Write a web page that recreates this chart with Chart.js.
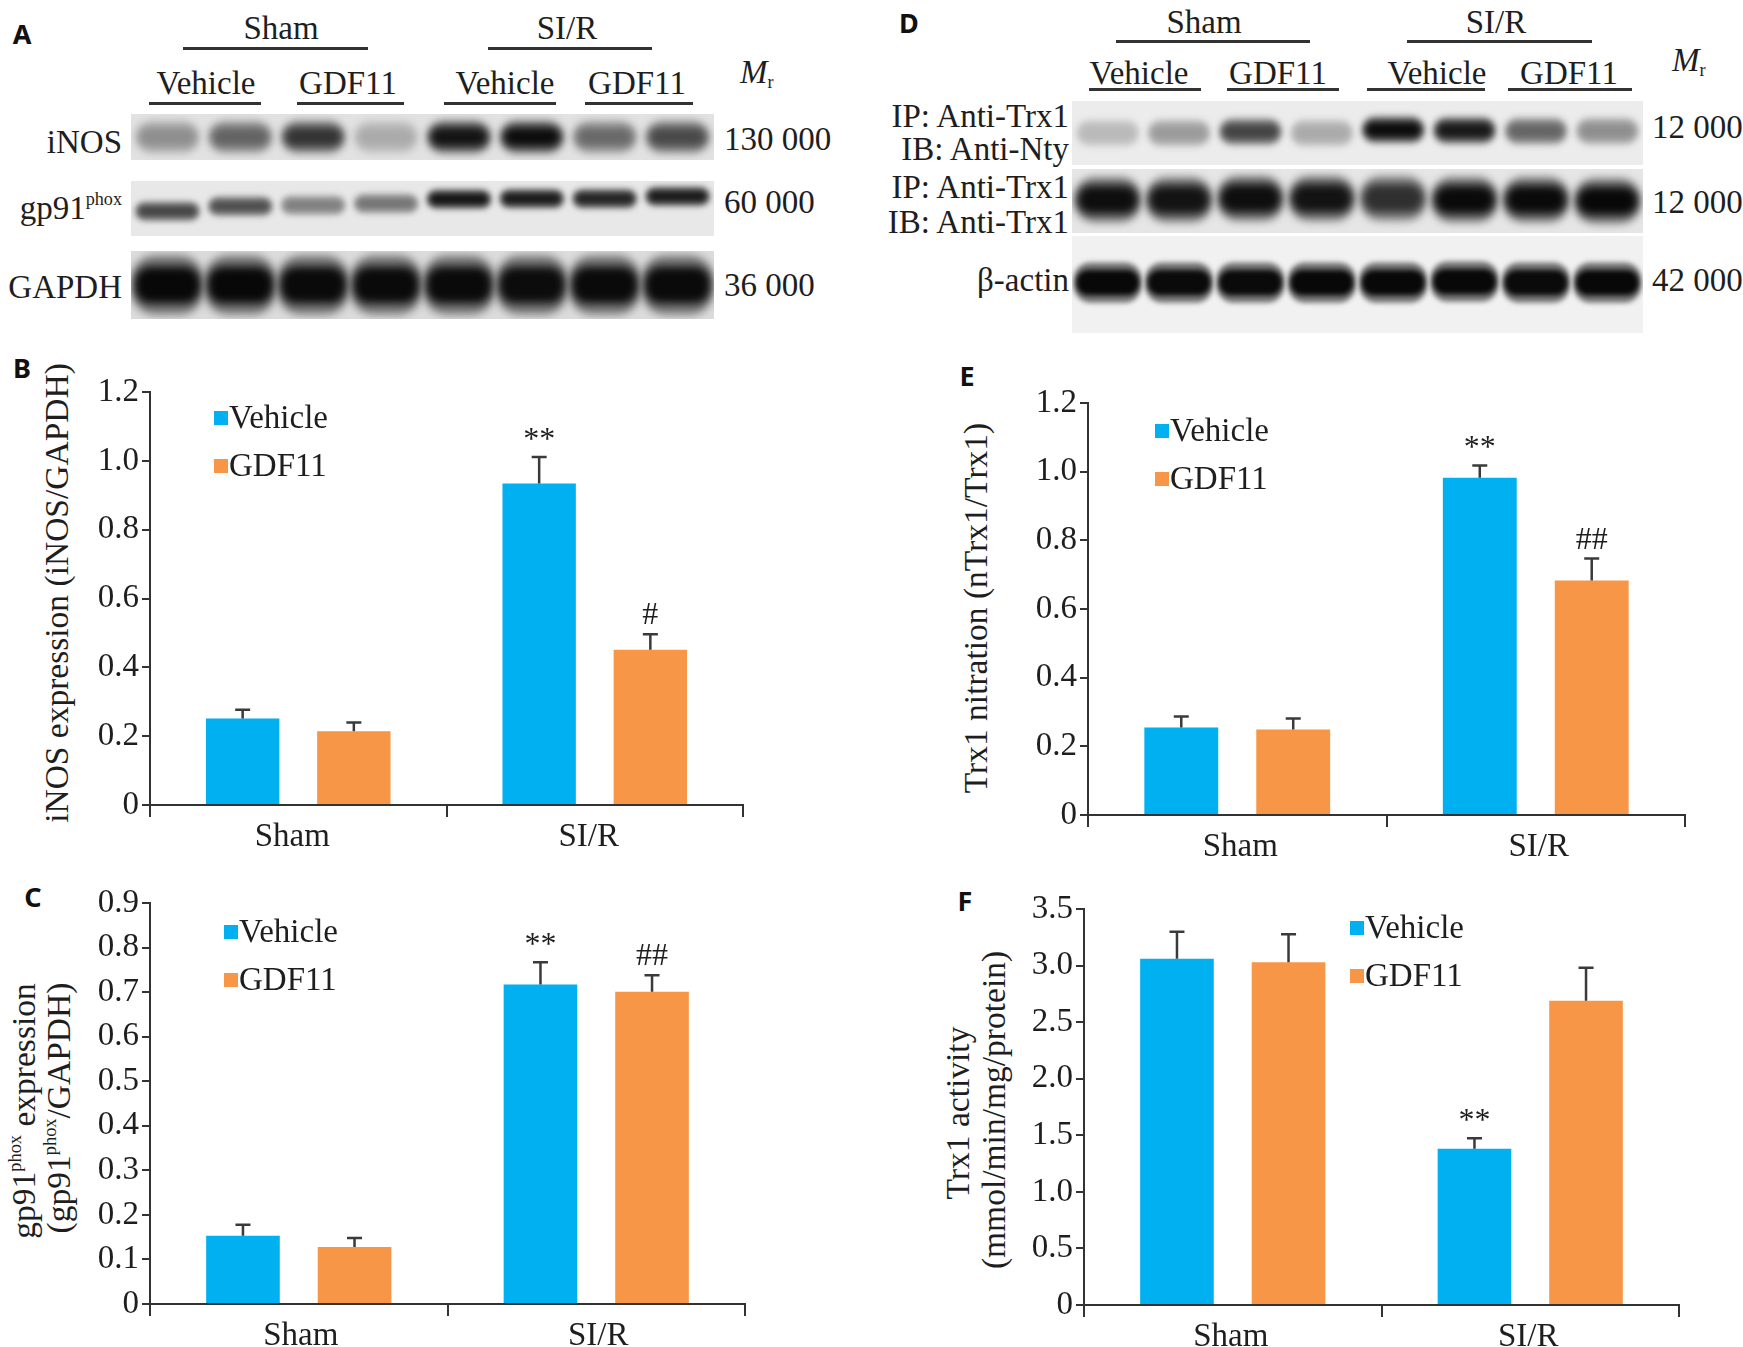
<!DOCTYPE html>
<html><head><meta charset="utf-8">
<script src="https://cdn.jsdelivr.net/npm/chart.js@4.4.0/dist/chart.umd.min.js"></script>
<style>
html,body{margin:0;padding:0;background:#fff;}
#page{position:relative;width:1743px;height:1347px;overflow:hidden;font-family:"Liberation Serif","Times New Roman",serif;color:#1e1e1e;}
.t{position:absolute;font-size:33px;line-height:1;white-space:nowrap;transform:translate(-50%,-50%);}
.r{position:absolute;font-size:33px;line-height:1;white-space:nowrap;transform:translate(-100%,-50%);}
.l{position:absolute;font-size:33px;line-height:1;white-space:nowrap;transform:translate(0,-50%);}
.ln{position:absolute;height:3px;background:#333;}
.pl{position:absolute;font-family:"Noto Sans",sans-serif;font-weight:700;font-size:27px;line-height:1;transform:translate(-50%,-50%);color:#111;}
.yt{position:absolute;font-size:33.5px;line-height:1;white-space:nowrap;transform:translate(-50%,-50%) rotate(-90deg);}
sup{font-size:0.55em;vertical-align:0.75em;line-height:0;}
sub{font-size:0.55em;vertical-align:-0.3em;line-height:0;}
canvas{position:absolute;}
</style></head>
<body><div id="page">

<!-- Panel A header -->
<div class="pl" style="left:22px;top:33px">A</div>
<div class="t" style="left:281px;top:28px">Sham</div>
<div class="ln" style="left:183px;top:47px;width:185px"></div>
<div class="t" style="left:567px;top:28px">SI/R</div>
<div class="ln" style="left:488px;top:47px;width:164px"></div>
<div class="t" style="left:206px;top:83px">Vehicle</div>
<div class="ln" style="left:149px;top:102px;width:112px"></div>
<div class="t" style="left:348px;top:83px">GDF11</div>
<div class="ln" style="left:297px;top:102px;width:107px"></div>
<div class="t" style="left:505px;top:83px">Vehicle</div>
<div class="ln" style="left:444px;top:102px;width:112px"></div>
<div class="t" style="left:637px;top:83px">GDF11</div>
<div class="ln" style="left:585px;top:102px;width:108px"></div>
<div class="l" style="left:740px;top:72px"><i>M</i><sub>r</sub></div>
<div class="r" style="left:122px;top:142px">iNOS</div>
<div class="r" style="left:122px;top:208px">gp91<sup>phox</sup></div>
<div class="r" style="left:122px;top:287px">GAPDH</div>
<div class="l" style="left:724px;top:139px">130 000</div>
<div class="l" style="left:724px;top:202px">60 000</div>
<div class="l" style="left:724px;top:285px">36 000</div>
<canvas id="blotA1"></canvas><canvas id="blotA2"></canvas><canvas id="blotA3"></canvas>

<!-- Panel D header -->
<div class="pl" style="left:909px;top:22px">D</div>
<div class="t" style="left:1204px;top:22px">Sham</div>
<div class="ln" style="left:1116px;top:40px;width:194px"></div>
<div class="t" style="left:1496px;top:22px">SI/R</div>
<div class="ln" style="left:1407px;top:40px;width:185px"></div>
<div class="t" style="left:1139px;top:73px">Vehicle</div>
<div class="ln" style="left:1089px;top:88px;width:112px"></div>
<div class="t" style="left:1278px;top:73px">GDF11</div>
<div class="ln" style="left:1227px;top:88px;width:112px"></div>
<div class="t" style="left:1437px;top:73px">Vehicle</div>
<div class="ln" style="left:1367px;top:88px;width:118px"></div>
<div class="t" style="left:1569px;top:73px">GDF11</div>
<div class="ln" style="left:1508px;top:88px;width:124px"></div>
<div class="l" style="left:1672px;top:60px"><i>M</i><sub>r</sub></div>
<div class="r" style="left:1069px;top:116px">IP: Anti-Trx1</div>
<div class="r" style="left:1069px;top:149px">IB: Anti-Nty</div>
<div class="r" style="left:1069px;top:187px">IP: Anti-Trx1</div>
<div class="r" style="left:1069px;top:222px">IB: Anti-Trx1</div>
<div class="r" style="left:1069px;top:280px">β-actin</div>
<div class="l" style="left:1652px;top:127px">12 000</div>
<div class="l" style="left:1652px;top:202px">12 000</div>
<div class="l" style="left:1652px;top:280px">42 000</div>
<canvas id="blotD1"></canvas><canvas id="blotD2"></canvas><canvas id="blotD3"></canvas>

<!-- Chart panels -->
<div class="pl" style="left:22px;top:367px">B</div>
<div class="yt" style="left:57px;top:593px">iNOS expression (iNOS/GAPDH)</div>
<canvas id="chartB"></canvas>

<div class="pl" style="left:33px;top:896px">C</div>
<div class="yt" style="left:24px;top:1111px">gp91<sup>phox</sup> expression</div>
<div class="yt" style="left:59px;top:1108px">(gp91<sup>phox</sup>/GAPDH)</div>
<canvas id="chartC"></canvas>

<div class="pl" style="left:967px;top:375px">E</div>
<div class="yt" style="left:976px;top:608px">Trx1 nitration (nTrx1/Trx1)</div>
<canvas id="chartE"></canvas>

<div class="pl" style="left:965px;top:900px">F</div>
<div class="yt" style="left:958px;top:1113px">Trx1 activity</div>
<div class="yt" style="left:994px;top:1110px">(mmol/min/mg/protein)</div>
<canvas id="chartF"></canvas>

</div>
<script>
// ---------------- DATA ----------------
const categories = ['Sham', 'SI/R'];
const seriesNames = ['Vehicle', 'GDF11'];

// B: iNOS expression (iNOS/GAPDH)
const iNOSVehicle    = [0.251, 0.934];
const iNOSVehicleErr = [0.026, 0.077];
const iNOSGDF11      = [0.214, 0.451];
const iNOSGDF11Err   = [0.026, 0.045];
const iNOSSigVehicle = ['', '**'];
const iNOSSigGDF11   = ['', '#'];
const iNOSTicks      = [0, 0.2, 0.4, 0.6, 0.8, 1.0, 1.2];

// C: gp91phox expression
const gp91Vehicle    = [0.153, 0.717];
const gp91VehicleErr = [0.025, 0.050];
const gp91GDF11      = [0.128, 0.701];
const gp91GDF11Err   = [0.020, 0.037];
const gp91SigVehicle = ['', '**'];
const gp91SigGDF11   = ['', '##'];
const gp91Ticks      = [0, 0.1, 0.2, 0.3, 0.4, 0.5, 0.6, 0.7, 0.8, 0.9];

// E: Trx1 nitration (nTrx1/Trx1)
const nitVehicle    = [0.255, 0.982];
const nitVehicleErr = [0.032, 0.036];
const nitGDF11      = [0.249, 0.683];
const nitGDF11Err   = [0.032, 0.064];
const nitSigVehicle = ['', '**'];
const nitSigGDF11   = ['', '##'];
const nitTicks      = [0, 0.2, 0.4, 0.6, 0.8, 1.0, 1.2];

// F: Trx1 activity (mmol/min/mg/protein)
const actVehicle    = [3.06, 1.38];
const actVehicleErr = [0.24, 0.094];
const actGDF11      = [3.03, 2.69];
const actGDF11Err   = [0.247, 0.29];
const actSigVehicle = ['', '**'];
const actSigGDF11   = ['', ''];
const actTicks      = [0, 0.5, 1.0, 1.5, 2.0, 2.5, 3.0, 3.5];

// Western blot lanes and band intensities (0 = no band, 1 = black)
const lanes = ['Sham Vehicle 1', 'Sham Vehicle 2', 'Sham GDF11 1', 'Sham GDF11 2',
               'SI/R Vehicle 1', 'SI/R Vehicle 2', 'SI/R GDF11 1', 'SI/R GDF11 2'];
const iNOSBand   = [0.38, 0.58, 0.80, 0.25, 0.95, 0.98, 0.55, 0.70];
const gp91Band   = [0.72, 0.68, 0.45, 0.50, 0.95, 0.92, 0.88, 0.92];
const gapdhBand  = [1.00, 1.00, 0.99, 0.99, 0.99, 0.98, 0.99, 0.99];
const ntyBand    = [0.18, 0.32, 0.72, 0.25, 0.98, 0.92, 0.57, 0.38];
const trx1Band   = [0.97, 0.95, 0.97, 0.95, 0.82, 0.99, 0.99, 1.00];
const actinBand  = [1.00, 0.99, 0.99, 1.00, 1.00, 1.00, 0.99, 1.00];

// ---------------- STYLE ----------------
const SERIF = '"Liberation Serif", "Times New Roman", serif';
const AX = '#333333';
const TXT = '#1e1e1e';
const BLUE = '#00B0F0';
const ORANGE = '#F79646';
const FS = 33;

function place(c, b) {
  c.style.left = b.x + 'px'; c.style.top = b.y + 'px';
  c.style.width = b.w + 'px'; c.style.height = b.h + 'px';
  c.width = b.w; c.height = b.h;
}

const gray = v => { const g = Math.round(224 - v * 216); return `rgb(${g},${g},${g})`; };

const blurPlugin = {
  id: 'blur',
  beforeDatasetsDraw(chart, args, opts) { chart.ctx.save(); chart.ctx.filter = `blur(${opts.px || 3}px)`; },
  afterDatasetsDraw(chart) { chart.ctx.restore(); }
};

function blot(id, box, band, spec) {
  const c = document.getElementById(id);
  place(c, box);
  c.style.background = spec.bg;
  new Chart(c, {
    type: 'bar',
    data: {
      labels: lanes,
      datasets: [
        // core of each band (dataset 0 is painted last, on top)
        { data: band.map((v, i) => [spec.center[i] - spec.half, spec.center[i] + spec.half]),
          backgroundColor: band.map(gray), borderWidth: 0, borderSkipped: false,
          borderRadius: spec.radius, barPercentage: spec.width, categoryPercentage: 1, grouped: false },
        // diffuse halo
        { data: band.map((v, i) => [spec.center[i] - spec.half * 1.6, spec.center[i] + spec.half * 1.6]),
          backgroundColor: band.map(v => gray(v * 0.5)), borderWidth: 0, borderSkipped: false,
          borderRadius: spec.radius * 1.4, barPercentage: Math.min(1, spec.width * 1.08), categoryPercentage: 1, grouped: false }
      ]
    },
    options: {
      responsive: false, animation: false, events: [],
      layout: { padding: 0 },
      plugins: { legend: { display: false }, tooltip: { enabled: false }, blur: { px: spec.blur } },
      scales: { x: { display: false }, y: { display: false, min: 0, max: 1, reverse: true } }
    },
    plugins: [blurPlugin]
  });
}

// Panel A strips
blot('blotA1', { x: 131, y: 114, w: 583, h: 46 }, iNOSBand,
  { bg: '#e2e2e2', center: [0.5, 0.5, 0.5, 0.5, 0.5, 0.5, 0.5, 0.5], half: 0.22, width: 0.8, radius: 12, blur: 4 });
blot('blotA2', { x: 131, y: 181, w: 583, h: 55 }, gp91Band,
  { bg: '#e8e8e8', center: [0.55, 0.46, 0.44, 0.41, 0.33, 0.32, 0.32, 0.28], half: 0.11, width: 0.82, radius: 8, blur: 3 });
blot('blotA3', { x: 131, y: 251, w: 583, h: 68 }, gapdhBand,
  { bg: '#dcdcdc', center: [0.5, 0.5, 0.5, 0.5, 0.5, 0.5, 0.5, 0.5], half: 0.27, width: 0.9, radius: 16, blur: 4 });
// Panel D strips
blot('blotD1', { x: 1072, y: 101, w: 571, h: 64 }, ntyBand,
  { bg: '#ececec', center: [0.5, 0.5, 0.48, 0.5, 0.45, 0.46, 0.47, 0.47], half: 0.13, width: 0.8, radius: 9, blur: 3.5 });
blot('blotD2', { x: 1072, y: 169, w: 571, h: 64 }, trx1Band,
  { bg: '#e6e6e6', center: [0.48, 0.48, 0.46, 0.46, 0.46, 0.48, 0.48, 0.5], half: 0.22, width: 0.85, radius: 14, blur: 4 });
blot('blotD3', { x: 1072, y: 236, w: 571, h: 97 }, actinBand,
  { bg: '#f1f1f1', center: [0.48, 0.48, 0.48, 0.48, 0.48, 0.47, 0.48, 0.48], half: 0.13, width: 0.88, radius: 12, blur: 2.5 });

// ---------------- BAR CHARTS ----------------
const errorPlugin = {
  id: 'errs',
  afterDatasetsDraw(chart) {
    const ctx = chart.ctx, ys = chart.scales.y;
    chart.data.datasets.forEach((ds, i) => {
      const meta = chart.getDatasetMeta(i);
      meta.data.forEach((el, j) => {
        const top = ys.getPixelForValue(ds.data[j] + ds.err[j]);
        ctx.save();
        ctx.strokeStyle = '#3a3a3a'; ctx.lineWidth = 2.5;
        ctx.beginPath();
        ctx.moveTo(el.x, el.y); ctx.lineTo(el.x, top);
        ctx.moveTo(el.x - 7.5, top); ctx.lineTo(el.x + 7.5, top);
        ctx.stroke();
        if (ds.sig[j]) {
          ctx.fillStyle = TXT; ctx.font = `32px ${SERIF}`;
          ctx.textAlign = 'center'; ctx.textBaseline = 'alphabetic';
          const off = ds.sig[j].indexOf('#') >= 0 ? 10 : 8;
          ctx.fillText(ds.sig[j], el.x, top - off);
        }
        ctx.restore();
      });
    });
  }
};

const legendPlugin = {
  id: 'boxLegend',
  afterDraw(chart, args, opts) {
    const ctx = chart.ctx, a = chart.chartArea;
    chart.data.datasets.forEach((ds, i) => {
      const x = a.left + opts.x, y = a.top + opts.y + i * 48;
      ctx.save();
      ctx.fillStyle = ds.backgroundColor;
      ctx.fillRect(x, y - 7, 14, 14);
      ctx.fillStyle = TXT; ctx.font = `${FS}px ${SERIF}`;
      ctx.textAlign = 'left'; ctx.textBaseline = 'middle';
      ctx.fillText(ds.label, x + 15, y + 1);
      ctx.restore();
    });
  }
};

function barChart(id, box, area, vals, errs, sigs, ticks, leg, labelShift) {
  const c = document.getElementById(id);
  place(c, box);
  const yMax = ticks[ticks.length - 1];
  new Chart(c, {
    type: 'bar',
    data: {
      labels: categories,
      datasets: [
        { label: seriesNames[0], data: vals[0], err: errs[0], sig: sigs[0], backgroundColor: BLUE,
          borderWidth: 0, categoryPercentage: 0.75, barPercentage: 0.66 },
        { label: seriesNames[1], data: vals[1], err: errs[1], sig: sigs[1], backgroundColor: ORANGE,
          borderWidth: 0, categoryPercentage: 0.75, barPercentage: 0.66 }
      ]
    },
    options: {
      responsive: false, animation: false, events: [],
      layout: { padding: { top: area.top - box.y, right: box.x + box.w - area.right, bottom: 0, left: 0 } },
      plugins: { legend: { display: false }, tooltip: { enabled: false }, boxLegend: leg },
      scales: {
        x: {
          grid: { offset: true, drawOnChartArea: false, tickLength: 12, color: AX, lineWidth: 2 },
          border: { color: AX, width: 2 },
          ticks: { font: { family: SERIF, size: FS }, color: TXT, padding: 1, labelOffset: labelShift },
          afterFit: s => { s.height = box.y + box.h - area.bottom; }
        },
        y: {
          min: 0, max: yMax,
          afterBuildTicks: s => { s.ticks = ticks.map(v => ({ value: v })); },
          grid: { drawOnChartArea: false, tickLength: 8, color: AX, lineWidth: 2 },
          border: { color: AX, width: 2 },
          ticks: { autoSkip: false, font: { family: SERIF, size: FS }, color: TXT, padding: 3,
                   callback: v => v === 0 ? '0' : Number(v).toFixed(1) },
          afterFit: s => { s.width = area.left - box.x; }
        }
      }
    },
    plugins: [errorPlugin, legendPlugin]
  });
}

barChart('chartB', { x: 0, y: 355, w: 770, h: 505 }, { left: 150, top: 392, right: 743, bottom: 805 },
  [iNOSVehicle, iNOSGDF11], [iNOSVehicleErr, iNOSGDF11Err], [iNOSSigVehicle, iNOSSigGDF11], iNOSTicks, { x: 64, y: 26 }, -6);
barChart('chartC', { x: 0, y: 866, w: 770, h: 481 }, { left: 150, top: 903, right: 745, bottom: 1304 },
  [gp91Vehicle, gp91GDF11], [gp91VehicleErr, gp91GDF11Err], [gp91SigVehicle, gp91SigGDF11], gp91Ticks, { x: 74, y: 29 }, 2);
barChart('chartE', { x: 930, y: 365, w: 780, h: 505 }, { left: 1088, top: 403, right: 1685, bottom: 815 },
  [nitVehicle, nitGDF11], [nitVehicleErr, nitGDF11Err], [nitSigVehicle, nitSigGDF11], nitTicks, { x: 67, y: 28 }, 3);
barChart('chartF', { x: 930, y: 870, w: 780, h: 477 }, { left: 1084, top: 909, right: 1679, bottom: 1305 },
  [actVehicle, actGDF11], [actVehicleErr, actGDF11Err], [actSigVehicle, actSigGDF11], actTicks, { x: 266, y: 19 }, -2);
</script>
</body></html>
